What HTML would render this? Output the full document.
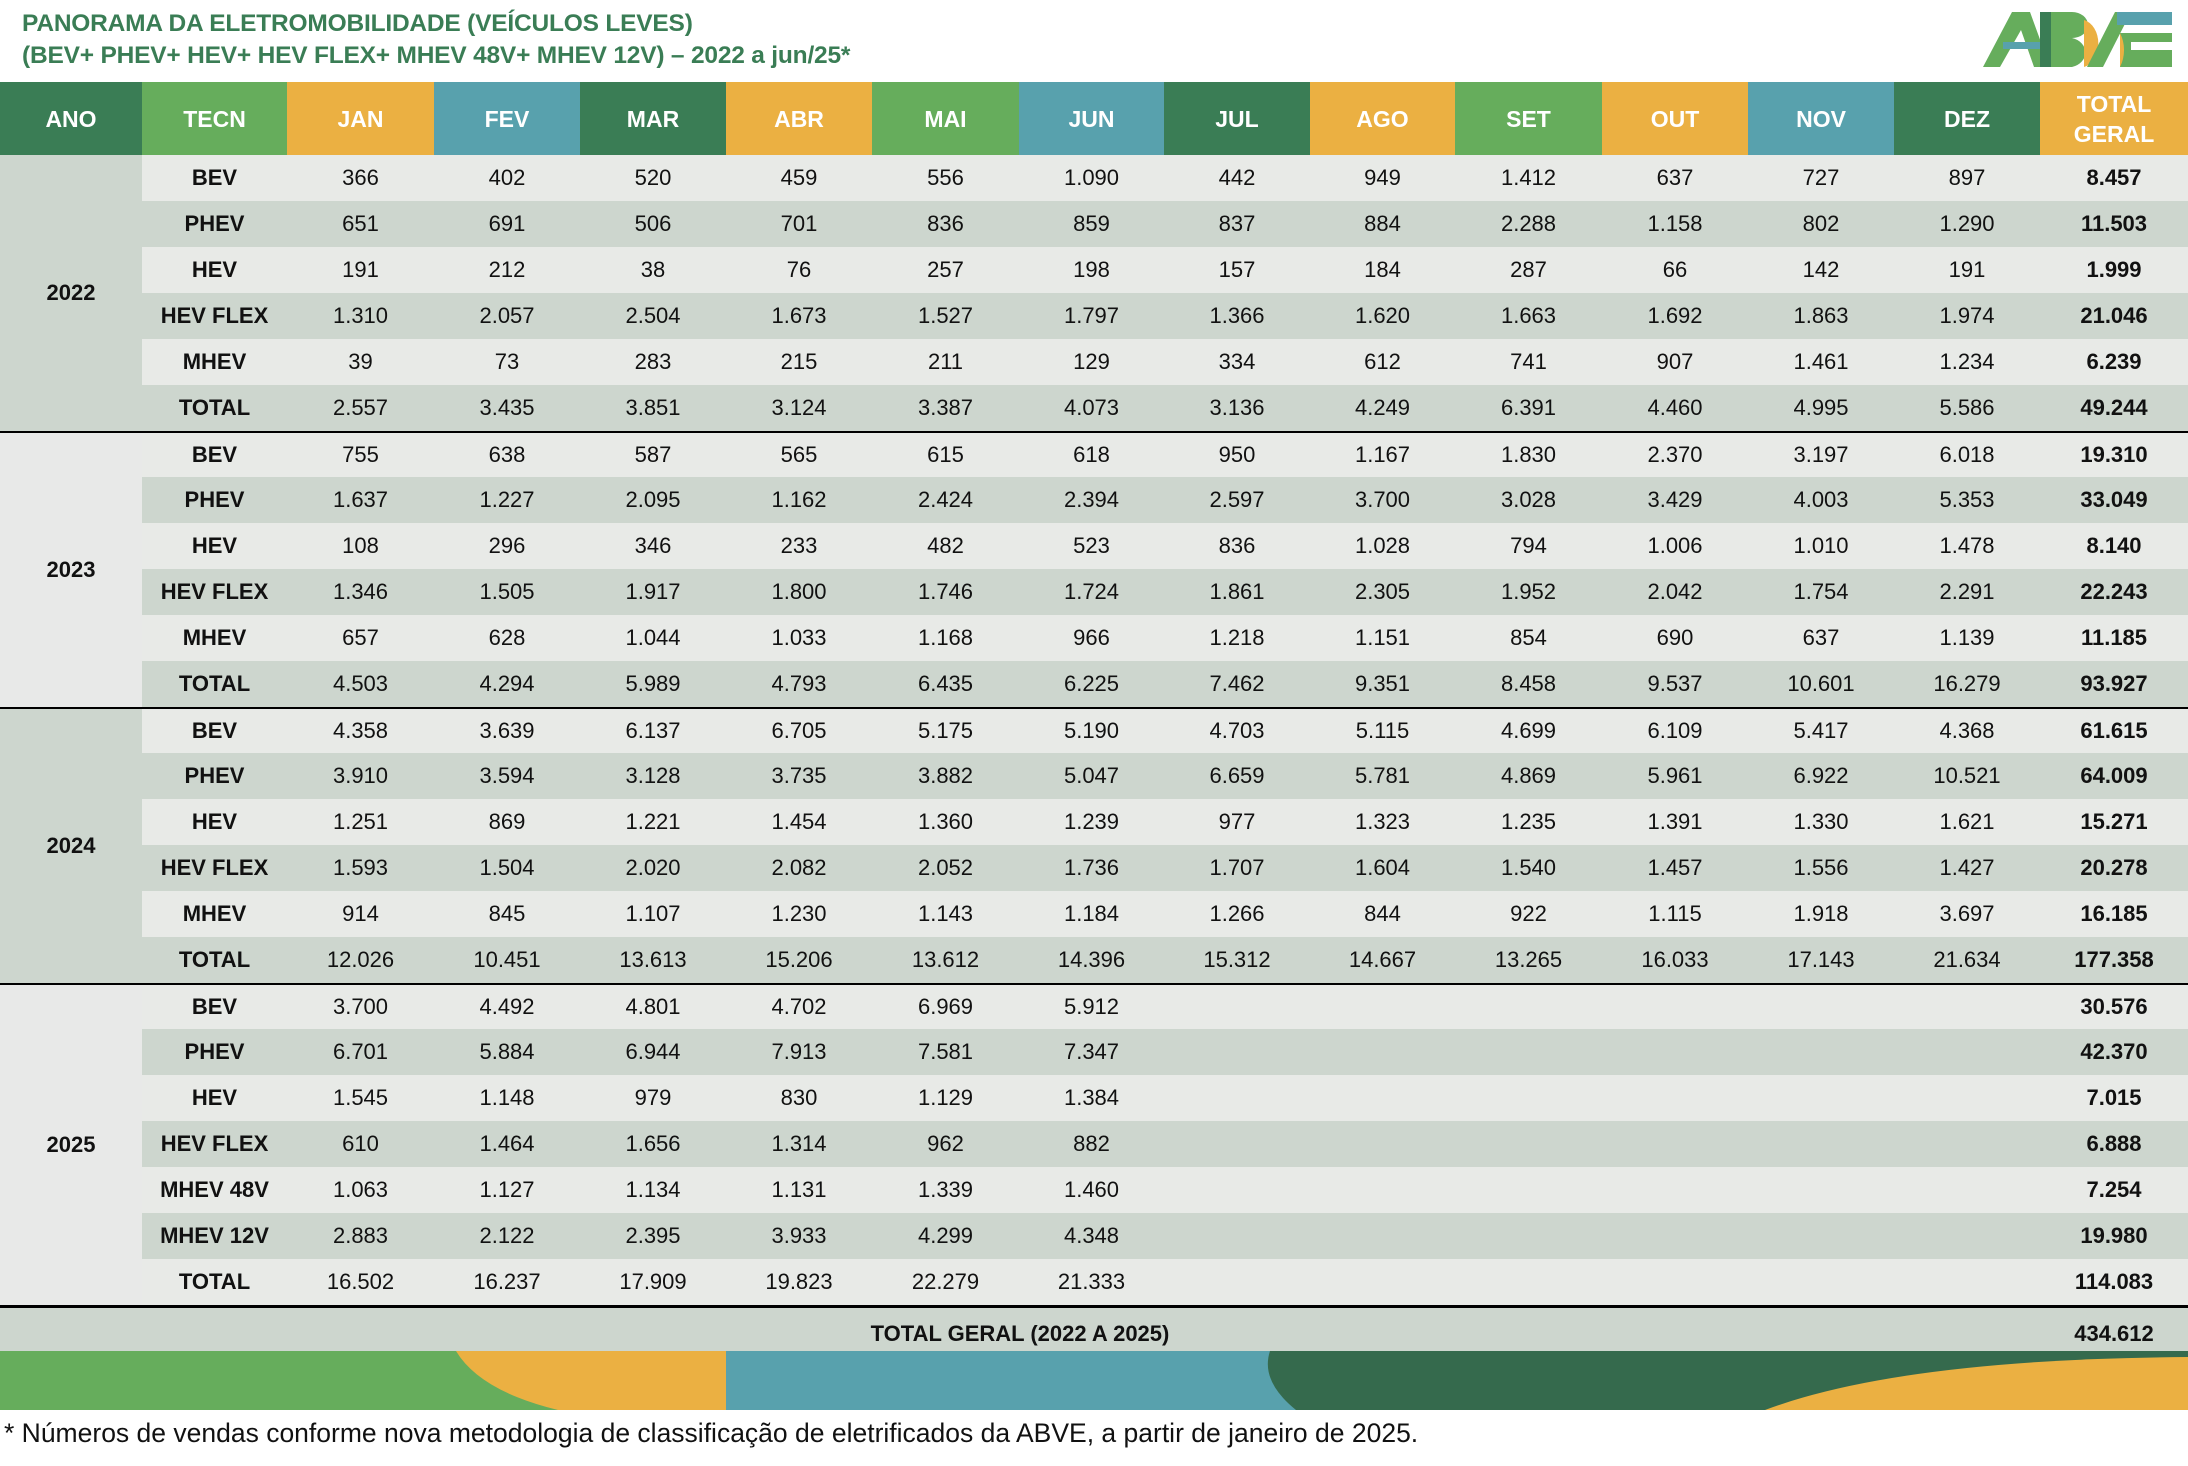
<!DOCTYPE html>
<html><head><meta charset="utf-8">
<style>
body{margin:0;width:2188px;height:1466px;background:#fff;position:relative;overflow:hidden;font-family:"Liberation Sans",sans-serif;}
.t{position:absolute;left:22px;color:#3a7d55;font-weight:bold;font-size:24.5px;line-height:32px;letter-spacing:-0.2px}
table{position:absolute;left:0;top:82px;border-collapse:collapse;table-layout:fixed;width:2188px;}
td,th{padding:0;text-align:center;font-size:22px;color:#111;white-space:nowrap;}
th{height:73px;color:#fff;font-weight:bold;font-size:23px;line-height:30px;}
td{height:46px;}
.dg{background:#3a7d55}.gr{background:#66ad5c}.or{background:#ebb042}.te{background:#58a1ad}
tr.l td{background:#e8eae7}tr.d td{background:#cdd6ce}
td.b{font-weight:bold}
td.y1{background:#cdd6ce!important;font-weight:bold}
td.y2{background:#e8e9e8!important;font-weight:bold}
tr.s td{border-top:2px solid #000;height:44px}
tr.g td{background:#cdd6ce;border-top:3px solid #000;font-weight:bold;height:44px;vertical-align:middle;padding-top:4px}
.foot{position:absolute;left:4px;top:1418px;font-size:26.5px;color:#111}
</style></head><body>
<div class="t" style="top:8px">PANORAMA DA ELETROMOBILIDADE (VEÍCULOS LEVES)</div>
<div class="t" style="top:40px">(BEV+ PHEV+ HEV+ HEV FLEX+ MHEV 48V+ MHEV 12V) – 2022 a jun/25*</div>
<svg style="position:absolute;left:0;top:0" width="2188" height="80">
<polygon points="1983,67 2012,12 2030,12 2050,67 2034,67 2021,30 2000,67" fill="#66ad5c"/>
<rect x="2003" y="42" width="40" height="7" fill="#58a1ad"/>
<path d="M2050,12 h22 a16,13 0 0 1 0,26 a18,15 0 0 1 0,29 h-22z" fill="#66ad5c"/>
<path d="M2084,20 a18,24 0 0 1 0,47 z" fill="#ebb042"/>
<rect x="2040" y="12" width="11" height="55" fill="#3a7d55"/>
<polygon points="2087,67 2115,12 2131,12 2103,67" fill="#66ad5c"/>
<rect x="2117" y="12" width="55" height="13" fill="#58a1ad"/>
<rect x="2120" y="33" width="52" height="34" fill="#66ad5c"/>
<path d="M2120,33 a30,34 0 0 1 0,34 z" fill="#ebb042"/>
<rect x="2131" y="42" width="41" height="8" fill="#fff"/>
</svg>
<table>
<colgroup><col style="width:142px"><col style="width:145px"><col style="width:147px"><col style="width:146px"><col style="width:146px"><col style="width:146px"><col style="width:147px"><col style="width:145px"><col style="width:146px"><col style="width:145px"><col style="width:147px"><col style="width:146px"><col style="width:146px"><col style="width:146px"><col style="width:148px"></colgroup>
<tr><th class="dg">ANO</th><th class="gr">TECN</th><th class="or">JAN</th><th class="te">FEV</th><th class="dg">MAR</th><th class="or">ABR</th><th class="gr">MAI</th><th class="te">JUN</th><th class="dg">JUL</th><th class="or">AGO</th><th class="gr">SET</th><th class="or">OUT</th><th class="te">NOV</th><th class="dg">DEZ</th><th class="or">TOTAL<br>GERAL</th></tr>
<tr class="l"><td rowspan="6" class="y1">2022</td><td class="b">BEV</td><td>366</td><td>402</td><td>520</td><td>459</td><td>556</td><td>1.090</td><td>442</td><td>949</td><td>1.412</td><td>637</td><td>727</td><td>897</td><td class="b">8.457</td></tr>
<tr class="d"><td class="b">PHEV</td><td>651</td><td>691</td><td>506</td><td>701</td><td>836</td><td>859</td><td>837</td><td>884</td><td>2.288</td><td>1.158</td><td>802</td><td>1.290</td><td class="b">11.503</td></tr>
<tr class="l"><td class="b">HEV</td><td>191</td><td>212</td><td>38</td><td>76</td><td>257</td><td>198</td><td>157</td><td>184</td><td>287</td><td>66</td><td>142</td><td>191</td><td class="b">1.999</td></tr>
<tr class="d"><td class="b">HEV FLEX</td><td>1.310</td><td>2.057</td><td>2.504</td><td>1.673</td><td>1.527</td><td>1.797</td><td>1.366</td><td>1.620</td><td>1.663</td><td>1.692</td><td>1.863</td><td>1.974</td><td class="b">21.046</td></tr>
<tr class="l"><td class="b">MHEV</td><td>39</td><td>73</td><td>283</td><td>215</td><td>211</td><td>129</td><td>334</td><td>612</td><td>741</td><td>907</td><td>1.461</td><td>1.234</td><td class="b">6.239</td></tr>
<tr class="d"><td class="b">TOTAL</td><td>2.557</td><td>3.435</td><td>3.851</td><td>3.124</td><td>3.387</td><td>4.073</td><td>3.136</td><td>4.249</td><td>6.391</td><td>4.460</td><td>4.995</td><td>5.586</td><td class="b">49.244</td></tr>
<tr class="l s"><td rowspan="6" class="y2">2023</td><td class="b">BEV</td><td>755</td><td>638</td><td>587</td><td>565</td><td>615</td><td>618</td><td>950</td><td>1.167</td><td>1.830</td><td>2.370</td><td>3.197</td><td>6.018</td><td class="b">19.310</td></tr>
<tr class="d"><td class="b">PHEV</td><td>1.637</td><td>1.227</td><td>2.095</td><td>1.162</td><td>2.424</td><td>2.394</td><td>2.597</td><td>3.700</td><td>3.028</td><td>3.429</td><td>4.003</td><td>5.353</td><td class="b">33.049</td></tr>
<tr class="l"><td class="b">HEV</td><td>108</td><td>296</td><td>346</td><td>233</td><td>482</td><td>523</td><td>836</td><td>1.028</td><td>794</td><td>1.006</td><td>1.010</td><td>1.478</td><td class="b">8.140</td></tr>
<tr class="d"><td class="b">HEV FLEX</td><td>1.346</td><td>1.505</td><td>1.917</td><td>1.800</td><td>1.746</td><td>1.724</td><td>1.861</td><td>2.305</td><td>1.952</td><td>2.042</td><td>1.754</td><td>2.291</td><td class="b">22.243</td></tr>
<tr class="l"><td class="b">MHEV</td><td>657</td><td>628</td><td>1.044</td><td>1.033</td><td>1.168</td><td>966</td><td>1.218</td><td>1.151</td><td>854</td><td>690</td><td>637</td><td>1.139</td><td class="b">11.185</td></tr>
<tr class="d"><td class="b">TOTAL</td><td>4.503</td><td>4.294</td><td>5.989</td><td>4.793</td><td>6.435</td><td>6.225</td><td>7.462</td><td>9.351</td><td>8.458</td><td>9.537</td><td>10.601</td><td>16.279</td><td class="b">93.927</td></tr>
<tr class="l s"><td rowspan="6" class="y1">2024</td><td class="b">BEV</td><td>4.358</td><td>3.639</td><td>6.137</td><td>6.705</td><td>5.175</td><td>5.190</td><td>4.703</td><td>5.115</td><td>4.699</td><td>6.109</td><td>5.417</td><td>4.368</td><td class="b">61.615</td></tr>
<tr class="d"><td class="b">PHEV</td><td>3.910</td><td>3.594</td><td>3.128</td><td>3.735</td><td>3.882</td><td>5.047</td><td>6.659</td><td>5.781</td><td>4.869</td><td>5.961</td><td>6.922</td><td>10.521</td><td class="b">64.009</td></tr>
<tr class="l"><td class="b">HEV</td><td>1.251</td><td>869</td><td>1.221</td><td>1.454</td><td>1.360</td><td>1.239</td><td>977</td><td>1.323</td><td>1.235</td><td>1.391</td><td>1.330</td><td>1.621</td><td class="b">15.271</td></tr>
<tr class="d"><td class="b">HEV FLEX</td><td>1.593</td><td>1.504</td><td>2.020</td><td>2.082</td><td>2.052</td><td>1.736</td><td>1.707</td><td>1.604</td><td>1.540</td><td>1.457</td><td>1.556</td><td>1.427</td><td class="b">20.278</td></tr>
<tr class="l"><td class="b">MHEV</td><td>914</td><td>845</td><td>1.107</td><td>1.230</td><td>1.143</td><td>1.184</td><td>1.266</td><td>844</td><td>922</td><td>1.115</td><td>1.918</td><td>3.697</td><td class="b">16.185</td></tr>
<tr class="d"><td class="b">TOTAL</td><td>12.026</td><td>10.451</td><td>13.613</td><td>15.206</td><td>13.612</td><td>14.396</td><td>15.312</td><td>14.667</td><td>13.265</td><td>16.033</td><td>17.143</td><td>21.634</td><td class="b">177.358</td></tr>
<tr class="l s"><td rowspan="7" class="y2">2025</td><td class="b">BEV</td><td>3.700</td><td>4.492</td><td>4.801</td><td>4.702</td><td>6.969</td><td>5.912</td><td></td><td></td><td></td><td></td><td></td><td></td><td class="b">30.576</td></tr>
<tr class="d"><td class="b">PHEV</td><td>6.701</td><td>5.884</td><td>6.944</td><td>7.913</td><td>7.581</td><td>7.347</td><td></td><td></td><td></td><td></td><td></td><td></td><td class="b">42.370</td></tr>
<tr class="l"><td class="b">HEV</td><td>1.545</td><td>1.148</td><td>979</td><td>830</td><td>1.129</td><td>1.384</td><td></td><td></td><td></td><td></td><td></td><td></td><td class="b">7.015</td></tr>
<tr class="d"><td class="b">HEV FLEX</td><td>610</td><td>1.464</td><td>1.656</td><td>1.314</td><td>962</td><td>882</td><td></td><td></td><td></td><td></td><td></td><td></td><td class="b">6.888</td></tr>
<tr class="l"><td class="b">MHEV 48V</td><td>1.063</td><td>1.127</td><td>1.134</td><td>1.131</td><td>1.339</td><td>1.460</td><td></td><td></td><td></td><td></td><td></td><td></td><td class="b">7.254</td></tr>
<tr class="d"><td class="b">MHEV 12V</td><td>2.883</td><td>2.122</td><td>2.395</td><td>3.933</td><td>4.299</td><td>4.348</td><td></td><td></td><td></td><td></td><td></td><td></td><td class="b">19.980</td></tr>
<tr class="l"><td class="b">TOTAL</td><td>16.502</td><td>16.237</td><td>17.909</td><td>19.823</td><td>22.279</td><td>21.333</td><td></td><td></td><td></td><td></td><td></td><td></td><td class="b">114.083</td></tr>
<tr class="g"><td colspan="14">TOTAL GERAL (2022 A 2025)</td><td>434.612</td></tr>
</table>
<svg style="position:absolute;left:0;top:1351px" width="2188" height="59">
<rect x="0" y="0" width="726" height="59" fill="#66ad5c"/>
<path d="M456,0 Q480,40 558,59 L726,59 L726,0Z" fill="#ebb042"/>
<rect x="726" y="0" width="572" height="59" fill="#58a1ad"/>
<path d="M1270,0 Q1260,30 1296,59 L2188,59 L2188,0Z" fill="#356a4d"/>
<path d="M1765,59 Q1900,8 2188,6 L2188,59Z" fill="#ebb042"/>
</svg>
<div class="foot">* Números de vendas conforme nova metodologia de classificação de eletrificados da ABVE, a partir de janeiro de 2025.</div>
</body></html>
